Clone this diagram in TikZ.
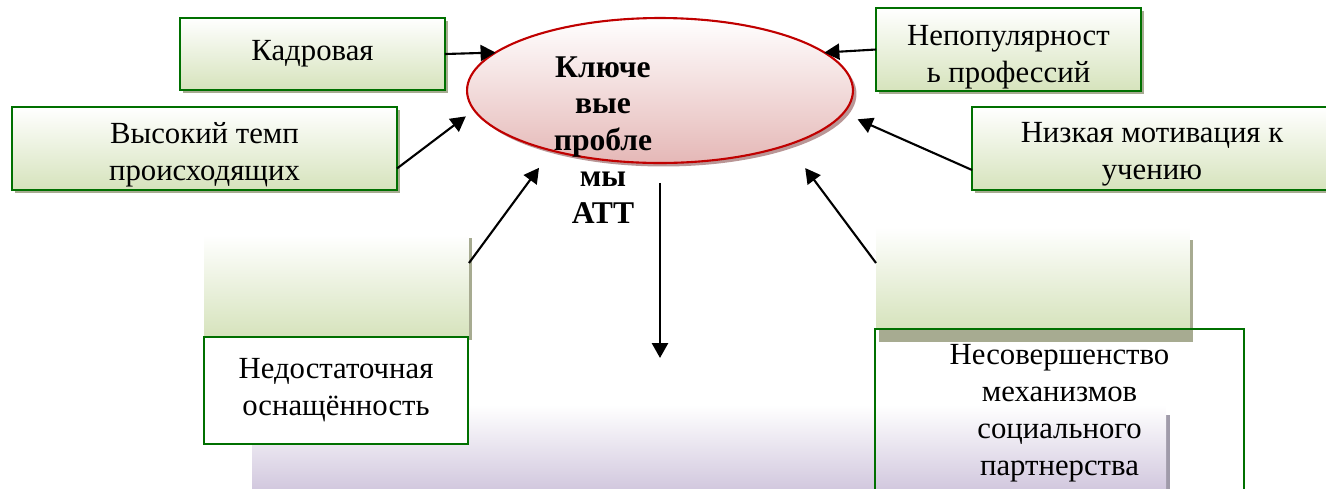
\documentclass[tikz,border=0pt]{standalone}
\usepackage{fontspec}
\setmainfont{Liberation Serif}
\usetikzlibrary{shapes.geometric, shadows, arrows.meta}

\definecolor{boxgreen}{RGB}{0,112,0}
\definecolor{boxfill}{RGB}{214,227,188}
\definecolor{boxshadow}{RGB}{167,171,145}
\definecolor{keyred}{RGB}{192,0,0}
\definecolor{keyfill}{RGB}{229,184,183}
\definecolor{keyshadow}{RGB}{185,150,150}
\definecolor{bandfill}{RGB}{204,193,218}
\definecolor{bandshadow}{RGB}{160,155,170}

\begin{document}
\begin{tikzpicture}[x=0.02cm, y=-0.02cm,
    txt/.style={font=\fontsize{17.5}{21}\selectfont, align=center},
    gbox/.style={txt, rectangle, draw=boxgreen, line width=1.2pt,
      top color=white, bottom color=boxfill, inner sep=0pt, outer sep=0pt,
      drop shadow={shadow xshift=0.06cm, shadow yshift=-0.06cm, fill=boxshadow, opacity=1}},
    wbox/.style={txt, rectangle, draw=boxgreen, line width=1.2pt, inner sep=0pt, outer sep=0pt},
    emptybox/.style={rectangle, top color=white, bottom color=boxfill, outer sep=0pt,
      drop shadow={shadow xshift=0.06cm, shadow yshift=#1, fill=boxshadow, opacity=1}},
    emptybox/.default=-0.06cm,
    lower/.style={text height=#1},
    >={Triangle[length=0.3cm, width=0.32cm]}, line width=1.2pt]

  \useasboundingbox (0,0) rectangle (1326,488);

  % background band
  \path[top color=white, bottom color=bandfill,
    drop shadow={shadow xshift=0.07cm, shadow yshift=-0.2cm, fill=bandshadow, opacity=1}]
    (252,405) rectangle (1166,500);

  % central ellipse
  \node[ellipse, draw=keyred, line width=1.2pt, top color=white, bottom color=keyfill,
    minimum width=7.72cm, minimum height=2.9cm, outer sep=0pt,
    drop shadow={shadow xshift=0.07cm, shadow yshift=-0.07cm, fill=keyshadow, opacity=1}]
    (key) at (660,90.5) {};

  % problems
  \node[gbox, minimum width=5.3cm, minimum height=1.44cm] (kadr) at (312.5,54) {Кадровая};
  \node[gbox, lower=41.5pt, minimum width=5.3cm, minimum height=1.66cm] (nepop) at (1008.5,49.5) {Непопулярност\\ь профессий};
  \node[gbox, lower=40pt, minimum width=7.7cm, minimum height=1.66cm] (temp) at (204.5,148.5) {Высокий темп\\происходящих};
  \node[gbox, lower=38.6pt, minimum width=7.2cm, minimum height=1.66cm] (motiv) at (1152,148.5) {Низкая мотивация к\\учению};

  \node[emptybox, minimum width=5.3cm, minimum height=2.04cm] (osnl) at (336.5,286) {};
  \node[emptybox=-0.26cm, minimum width=6.28cm, minimum height=2.04cm] (partnr) at (1033,278) {};

  \node[wbox, fill=white, minimum width=5.28cm, minimum height=2.14cm] (osn) at (336,390.5) {Недостаточная\\оснащённость};
  \node[wbox, lower=78pt, minimum width=7.38cm, minimum height=3.24cm] (partn) at (1059.5,410)
    {Несовершенство\\механизмов\\социального\\партнерства};

  \node[txt, font=\fontsize{18}{20.8}\selectfont\bfseries] (keytext) at (603,140) {Ключе\\вые\\пробле\\мы\\АТТ};

  % connectors
  \draw[->] (kadr.east) -- (key.167);
  \draw[->] (nepop.west) -- (key.13);
  \draw[->, shorten >=0.21cm] ([yshift=-0.4cm]temp.east) -- (key.186.6);
  \draw[->, shorten >=0.31cm] ([yshift=-0.43cm]motiv.west) -- (key.-7.3);
  \draw[->, shorten >=0.43cm] ([yshift=0.46cm]osnl.east) -- (key.209.4);
  \draw[->, shorten >=0.58cm] ([yshift=0.3cm]partnr.west) -- (key.-23.1);
  \coordinate (downend) at (660,358);
  \draw[->, line width=1.6pt] ([yshift=-0.4cm]key.south) -- (downend);
\end{tikzpicture}
\end{document}
